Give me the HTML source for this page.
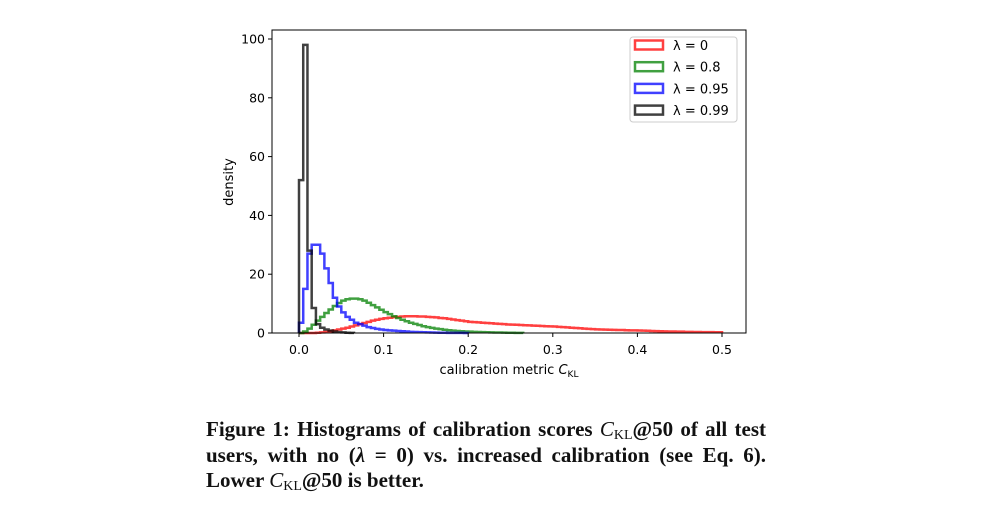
<!DOCTYPE html>
<html><head><meta charset="utf-8"><style>
body{margin:0;background:#fff;width:1007px;height:516px;overflow:hidden;font-family:"DejaVu Sans",sans-serif}
.cap{position:absolute;left:206px;top:417px;font-family:"Liberation Serif",serif;font-weight:bold;font-size:21px;line-height:25.5px;color:#111;width:560px}
.cap div{white-space:nowrap}
.cap .j{text-align:justify;text-align-last:justify;white-space:normal}
.cap sub{font-weight:normal;font-size:14px;line-height:0;vertical-align:-3px}
</style></head><body>
<svg id="chart" width="1007" height="400" style="position:absolute;left:0;top:0" font-family="DejaVu Sans, sans-serif">
<g id="marks"></g>
<rect x="272" y="30" width="474" height="303" fill="none" stroke="#000" stroke-width="1"/>
<g id="axes" font-size="12.5"></g>
<text x="509" y="374" text-anchor="middle" font-size="13">calibration metric <tspan font-style="italic">C</tspan><tspan font-size="9" dy="3">KL</tspan></text>
<text transform="translate(233,182) rotate(-90)" text-anchor="middle" font-size="13">density</text>
<g>
<rect x="630" y="37" width="107" height="85" rx="3" fill="#fff" stroke="#ccc"/>
<g id="legend-items" font-size="13"></g>
</g>
</svg>
<div class="cap"><div class="j">Figure 1: Histograms of calibration scores <i style="font-weight:normal">C</i><sub>KL</sub>@50 of all test</div><div class="j">users, with no (<i>λ</i> = 0) vs. increased calibration (see Eq. 6).</div><div>Lower <i style="font-weight:normal">C</i><sub>KL</sub>@50 is better.</div></div>
<script>
const binWidth = 0.005;
const xTicks = [0, 0.1, 0.2, 0.3, 0.4, 0.5];
const xTickLabels = ["0.0","0.1","0.2","0.3","0.4","0.5"];
const yTicks = [0,20,40,60,80,100];
const seriesNames = ["λ = 0","λ = 0.8","λ = 0.95","λ = 0.99"];
const seriesColors = ["rgba(255,0,0,0.75)","rgba(0,128,0,0.75)","rgba(0,0,255,0.75)","rgba(0,0,0,0.75)"];
const redValues = [0,0,0,0,0.1,0.2,0.4,0.6,0.9,1.2,1.5,1.8,2.2,2.6,3.0,3.4,3.8,4.2,4.5,4.8,5.0,5.2,5.4,5.5,5.6,5.7,5.7,5.7,5.6,5.6,5.5,5.4,5.3,5.1,5.0,4.8,4.6,4.4,4.2,4.0,3.8,3.7,3.6,3.5,3.4,3.3,3.2,3.1,3.0,2.9,2.85,2.8,2.7,2.65,2.6,2.5,2.45,2.4,2.3,2.25,2.2,2.1,2.0,1.9,1.8,1.7,1.6,1.5,1.4,1.3,1.25,1.2,1.15,1.1,1.05,1.0,1.0,0.95,0.9,0.9,0.85,0.8,0.75,0.7,0.65,0.6,0.55,0.5,0.5,0.45,0.45,0.4,0.4,0.35,0.35,0.3,0.3,0.3,0.25,0.25];
const greenValues = [0,0.5,1.5,2.8,4.2,5.5,6.8,8,9.2,10.2,11,11.5,11.7,11.7,11.5,11,10.3,9.5,8.7,7.9,7.1,6.4,5.7,5.1,4.5,4,3.5,3.1,2.7,2.3,2,1.75,1.5,1.3,1.1,0.95,0.8,0.7,0.6,0.5,0.45,0.4,0.35,0.3,0.25,0.2,0.18,0.15,0.12,0.1,0.08,0.06,0.05];
const blueValues = [3.5,15,27,30,30,27,22,17,12,9,7,5.5,4.5,3.5,3,2.5,2,1.7,1.4,1.2,1,0.9,0.8,0.7,0.6,0.5,0.4,0.35,0.3,0.25,0.2,0.15,0.12,0.1,0.08,0.06,0.05,0.04,0.03,0.02];
const blackValues = [52,98,28,8.5,3,1.8,1.2,0.8,0.5,0.3,0.2,0.1,0.05];
const allSeries = [redValues, greenValues, blueValues, blackValues];

const X0=299, XS=846, Y0=333, YS=2.94;
const xs = v => X0 + v*XS;
const ys = v => Y0 - v*YS;
const NS="http://www.w3.org/2000/svg";
const marks=document.getElementById('marks');
allSeries.forEach((vals,si)=>{
  let d=`M${xs(0)},${ys(0)}`;
  vals.forEach((v,i)=>{ d+=` L${xs(i*binWidth)},${ys(v)} L${xs((i+1)*binWidth)},${ys(v)}`; });
  d+=` L${xs(vals.length*binWidth)},${ys(0)}`;
  const p=document.createElementNS(NS,'path');
  p.setAttribute('d',d);p.setAttribute('fill','none');p.setAttribute('stroke',seriesColors[si]);p.setAttribute('stroke-width','2.5');
  
  
  marks.appendChild(p);
});
const axes=document.getElementById('axes');
xTicks.forEach((t,i)=>{
  const l=document.createElementNS(NS,'line');
  l.setAttribute('x1',xs(t));l.setAttribute('x2',xs(t));l.setAttribute('y1',333);l.setAttribute('y2',337);l.setAttribute('stroke','#000');
  
  
  axes.appendChild(l);
  const tx=document.createElementNS(NS,'text');
  tx.setAttribute('x',xs(t));tx.setAttribute('y',354);tx.setAttribute('text-anchor','middle');tx.textContent=xTickLabels[i];
  
  
  axes.appendChild(tx);
});
yTicks.forEach(t=>{
  const l=document.createElementNS(NS,'line');
  l.setAttribute('x1',268);l.setAttribute('x2',272);l.setAttribute('y1',ys(t));l.setAttribute('y2',ys(t));l.setAttribute('stroke','#000');
  
  
  axes.appendChild(l);
  const tx=document.createElementNS(NS,'text');
  tx.setAttribute('x',265);tx.setAttribute('y',ys(t)+4.5);tx.setAttribute('text-anchor','end');tx.textContent=t;
  
  
  axes.appendChild(tx);
});
const leg=document.getElementById('legend-items');
seriesNames.forEach((n,i)=>{
  const cy=45+i*21.7;
  const r=document.createElementNS(NS,'rect');
  r.setAttribute('x',635);r.setAttribute('y',cy-4.5);r.setAttribute('width',28);r.setAttribute('height',9);
  r.setAttribute('fill','none');r.setAttribute('stroke',seriesColors[i]);r.setAttribute('stroke-width','2.5');
  
  
  leg.appendChild(r);
  const t=document.createElementNS(NS,'text');
  t.setAttribute('x',673);t.setAttribute('y',cy+5);t.textContent=n;
  
  
  leg.appendChild(t);
});
</script>
</body></html>
